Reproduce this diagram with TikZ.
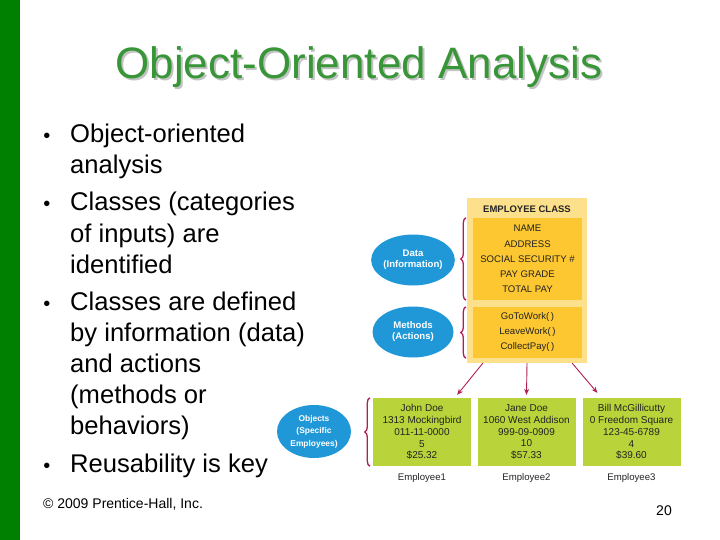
\documentclass[tikz,border=0pt]{standalone}
\usepackage{fontspec}
\setmainfont{Liberation Sans}
\usetikzlibrary{shapes.geometric,arrows.meta,decorations.pathreplacing,calc}
\definecolor{barGreen}{RGB}{0,128,0}
\definecolor{titleGreen}{RGB}{56,150,56}
\definecolor{shadowGray}{RGB}{195,195,195}
\definecolor{paleGold}{RGB}{252,224,140}
\definecolor{deepGold}{RGB}{252,199,48}
\definecolor{ovalBlue}{RGB}{32,152,216}
\definecolor{limeBox}{RGB}{184,212,58}
\definecolor{crimsonLine}{RGB}{176,32,86}
\definecolor{txtDark}{RGB}{35,35,35}
\tikzset{
  bullettext/.style={anchor=base west, inner sep=0pt, font=\fontsize{25.6}{31}\selectfont},
  bulletdot/.style={anchor=base, inner sep=0pt, font=\fontsize{20}{24}\selectfont},
  oval/.style={ellipse, fill=ovalBlue, draw=none, inner sep=0pt, text=white, align=center},
  empbox/.style={rectangle, fill=limeBox, draw=none, minimum width=98pt, minimum height=68pt, inner sep=0pt, align=center, text=txtDark, font=\fontsize{10}{11.75}\selectfont},
  emplabel/.style={inner sep=0pt, text=txtDark, font=\fontsize{9.6}{11}\selectfont},
  goldbox/.style={rectangle, fill=deepGold, draw=none, minimum width=109pt, inner sep=0pt, align=center, text=txtDark},
  curly/.style={draw=crimsonLine, line width=1.3pt, decorate, decoration={brace, amplitude=5pt}},
  pointer/.style={draw=crimsonLine, line width=0.9pt, -{Stealth[length=6pt,width=5pt]}}
}
\begin{document}
\begin{tikzpicture}[x=1pt,y=-1pt]
\useasboundingbox (0,0) rectangle (720,540);
\fill[white] (0,0) rectangle (720,540);
\fill[barGreen] (0,0) rectangle (20,540);

% title
\node[anchor=base, inner sep=0pt, text=shadowGray, font=\fontsize{44}{50}\selectfont] (titleshadow) at (360.8,80.6) {Object-Oriented Analysis};
\node[anchor=base, inner sep=0pt, text=titleGreen, font=\fontsize{44}{50}\selectfont] (title) at (358.8,78.6) {Object-Oriented Analysis};

% bullets
\node[bulletdot] (d1) at (47,143) {•};
\node[bullettext] (b1a) at (70,143) {Object-oriented};
\node[bullettext] (b1b) at (70,174) {analysis};
\node[bulletdot] (d2) at (47,211) {•};
\node[bullettext] (b2a) at (70,211) {Classes (categories};
\node[bullettext] (b2b) at (70,242) {of inputs) are};
\node[bullettext] (b2c) at (70,273) {identified};
\node[bulletdot] (d3) at (47,310) {•};
\node[bullettext] (b3a) at (70,310) {Classes are defined};
\node[bullettext] (b3b) at (70,341) {by information (data)};
\node[bullettext] (b3c) at (70,372) {and actions};
\node[bullettext] (b3d) at (70,403) {(methods or};
\node[bullettext] (b3e) at (70,434) {behaviors)};
\node[bulletdot] (d4) at (47,472) {•};
\node[bullettext] (b4a) at (70,472) {Reusability is key};

% footer
\node[anchor=base west, inner sep=0pt, font=\fontsize{14}{16}\selectfont] (copy) at (43,508.5) {© 2009 Prentice-Hall, Inc.};
\node[anchor=base east, inner sep=0pt, font=\fontsize{14}{16}\selectfont] (pnum) at (672,515) {20};

% class box
\node[rectangle, fill=paleGold, draw=none, minimum width=120pt, minimum height=165pt, inner sep=0pt] (cls) at (527,280.5) {};
\node[inner sep=0pt, font=\bfseries\fontsize{9.5}{11}\selectfont, text=txtDark] (clsname) at (527,209) {EMPLOYEE CLASS};
\node[goldbox, minimum height=82pt, font=\fontsize{9.6}{15.2}\selectfont] (data) at (527.5,259) {NAME\\ADDRESS\\SOCIAL SECURITY \#\\PAY GRADE\\TOTAL PAY};
\node[goldbox, minimum height=51pt, font=\fontsize{9.6}{15}\selectfont] (meth) at (527.5,332.5) {GoToWork(\,)\\LeaveWork(\,)\\CollectPay(\,)};

% ovals
\node[oval, minimum width=81pt, minimum height=51pt, font=\bfseries\fontsize{9.6}{11}\selectfont] (dataoval) at (413,260) {Data\\(Information)};
\node[oval, minimum width=81pt, minimum height=51pt, font=\bfseries\fontsize{9.6}{11}\selectfont] (methoval) at (413,332) {Methods\\(Actions)};
\node[oval, minimum width=74pt, minimum height=53pt, font=\bfseries\fontsize{8.4}{12.6}\selectfont] (objoval) at (314,431.5) {Objects\\(Specific\\Employees)};

% braces
\draw[curly] ([xshift=-7pt]data.south west) -- ([xshift=-7pt]data.north west);
\draw[curly] ([xshift=-7pt]meth.south west) -- ([xshift=-7pt]meth.north west);

% employee boxes
\node[empbox] (e1) at (422,432) {John Doe\\1313 Mockingbird\\011-11-0000\\5\\\$25.32};
\node[empbox] (e2) at (526.5,432) {Jane Doe\\1060 West Addison\\999-09-0909\\10\\\$57.33};
\node[empbox] (e3) at (631.5,432) {Bill McGillicutty\\0 Freedom Square\\123-45-6789\\4\\\$39.60};
\draw[curly] ([xshift=-3pt]e1.south west) -- ([xshift=-3pt]e1.north west);

\node[emplabel] (l1) at (422,478) {Employee1};
\node[emplabel] (l2) at (526.5,478) {Employee2};
\node[emplabel] (l3) at (631.5,478) {Employee3};

% arrows
\draw[pointer] ([xshift=16pt]cls.south west) -- ([xshift=-14pt,yshift=3pt]e1.north east);
\draw[pointer] (cls.south) -- ([yshift=3pt]e2.north);
\draw[pointer] ([xshift=-15pt]cls.south east) -- ([xshift=15pt,yshift=5pt]e3.north west);
\end{tikzpicture}
\end{document}
